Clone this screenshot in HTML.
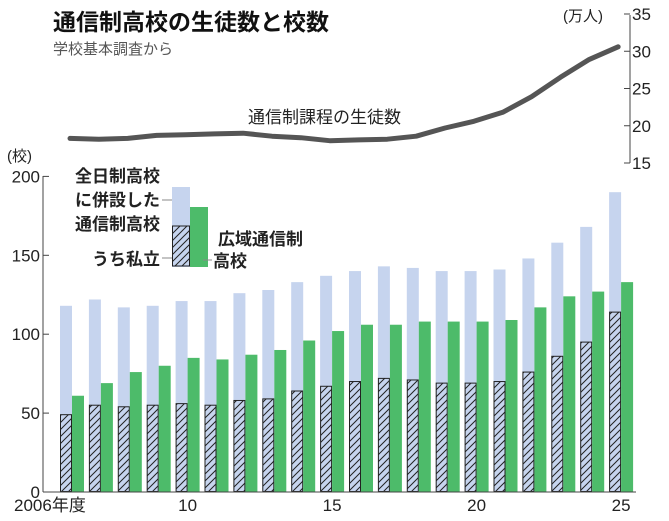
<!DOCTYPE html>
<html><head><meta charset="utf-8"><style>
html,body{margin:0;padding:0;background:#fff;}
svg{display:block;font-family:"Liberation Sans","Noto Sans CJK JP",sans-serif;}
</style></head><body>
<svg id="c" width="669" height="521" viewBox="0 0 669 521" xmlns="http://www.w3.org/2000/svg">
<defs>
<pattern id="h" patternUnits="userSpaceOnUse" width="7" height="7">
<rect width="7" height="7" fill="#c6d4ee"/>
<path d="M-1,8 L8,-1 M-4,4 L4,-4 M3,11 L11,3" stroke="#222" stroke-width="1"/>
</pattern>
</defs>
<text x="53" y="30" font-size="23" font-weight="bold" fill="#111">通信制高校の生徒数と校数</text>
<text x="53" y="54" font-size="15" fill="#555">学校基本調査から</text>
<text x="248" y="123" font-size="17" fill="#222">通信制課程の生徒数</text>
<text x="7" y="161" font-size="15" fill="#222">(校)</text>
<text x="563" y="21" font-size="15" fill="#222">(万人)</text>
<g id="g"></g>
</svg>
<script>
var g=document.getElementById('g'),s='';
var tot=[118,122,117,118,121,121,126,128,133,137,140,143,142,140,140,141,148,158,168,190];
var pri=[49,55,54,55,56,55,58,59,64,67,70,72,71,69,69,70,76,86,95,114];
var grn=[61,69,76,80,85,84,87,90,96,102,106,106,108,108,108,109,117,124,127,133];
var ln=[18.3,18.2,18.3,18.7,18.8,18.9,19.0,18.6,18.4,18.0,18.1,18.2,18.6,19.7,20.6,21.8,23.9,26.5,28.9,30.6];
function Y(v){return 492-v*1.578;}
function R(v){return 163-(v-15)*7.45;}
s+='<line x1="43" y1="176" x2="43" y2="492" stroke="#444" stroke-width="1"/>';
[0,50,100,150,200].forEach(function(v){var y=Y(v);s+='<line x1="43" y1="'+y+'" x2="49" y2="'+y+'" stroke="#444"/><text x="40" y="'+(y+6)+'" font-size="17" text-anchor="end" fill="#222">'+v+'</text>';});
s+='<line x1="630" y1="15" x2="630" y2="163" stroke="#444"/>';
[15,20,25,30,35].forEach(function(v){var y=R(v);s+='<line x1="624" y1="'+y+'" x2="630" y2="'+y+'" stroke="#444"/><text x="632" y="'+(y+6)+'" font-size="17" fill="#222">'+v+'</text>';});
for(var i=0;i<20;i++){var x=60+i*28.9;
s+='<rect x="'+x+'" y="'+Y(tot[i])+'" width="12" height="'+(tot[i]*1.578)+'" fill="#c6d4ee"/>';
s+='<rect x="'+(x+0.5)+'" y="'+Y(pri[i])+'" width="11" height="'+(pri[i]*1.578-0.5)+'" fill="url(#h)" stroke="#222" stroke-width="1"/>';
s+='<rect x="'+(x+12)+'" y="'+Y(grn[i])+'" width="12" height="'+(grn[i]*1.578)+'" fill="#4dbb6a"/>';}
s+='<line x1="43" y1="492" x2="636" y2="492" stroke="#444"/>';
var p='';for(var i=0;i<20;i++){p+=(i?'L':'M')+(70+i*28.85)+','+R(ln[i]).toFixed(1);}
s+='<path d="'+p+'" fill="none" stroke="#555" stroke-width="5" stroke-linejoin="round" stroke-linecap="round"/>';
[[0,'2006年度'],[4,'10'],[9,'15'],[14,'20'],[19,'25']].forEach(function(a){var x=72+a[0]*28.9;
s+='<text x="'+(a[0]==0?14:x)+'" y="511" font-size="17" '+(a[0]==0?'':'text-anchor="middle"')+' fill="#222">'+a[1]+'</text>';});
s+='<rect x="172" y="187" width="18" height="80" fill="#c6d4ee"/>';
s+='<rect x="172.5" y="226" width="17" height="40" fill="url(#h)" stroke="#222"/>';
s+='<rect x="190" y="207" width="18" height="60" fill="#4dbb6a"/>';
s+='<line x1="162" y1="200" x2="172" y2="200" stroke="#888"/>';
s+='<line x1="162" y1="258" x2="172" y2="258" stroke="#888"/>';
s+='<line x1="203" y1="260" x2="212" y2="260" stroke="#888"/>';
s+='<g font-size="17" font-weight="bold" fill="#222" text-anchor="end"><text x="160" y="182">全日制高校</text><text x="160" y="206">に併設した</text><text x="160" y="230">通信制高校</text><text x="160" y="265">うち私立</text></g>';
s+='<g font-size="17" font-weight="bold" fill="#222"><text x="218" y="245">広域通信制</text><text x="213" y="267">高校</text></g>';
g.innerHTML=s;
</script>
</body></html>
